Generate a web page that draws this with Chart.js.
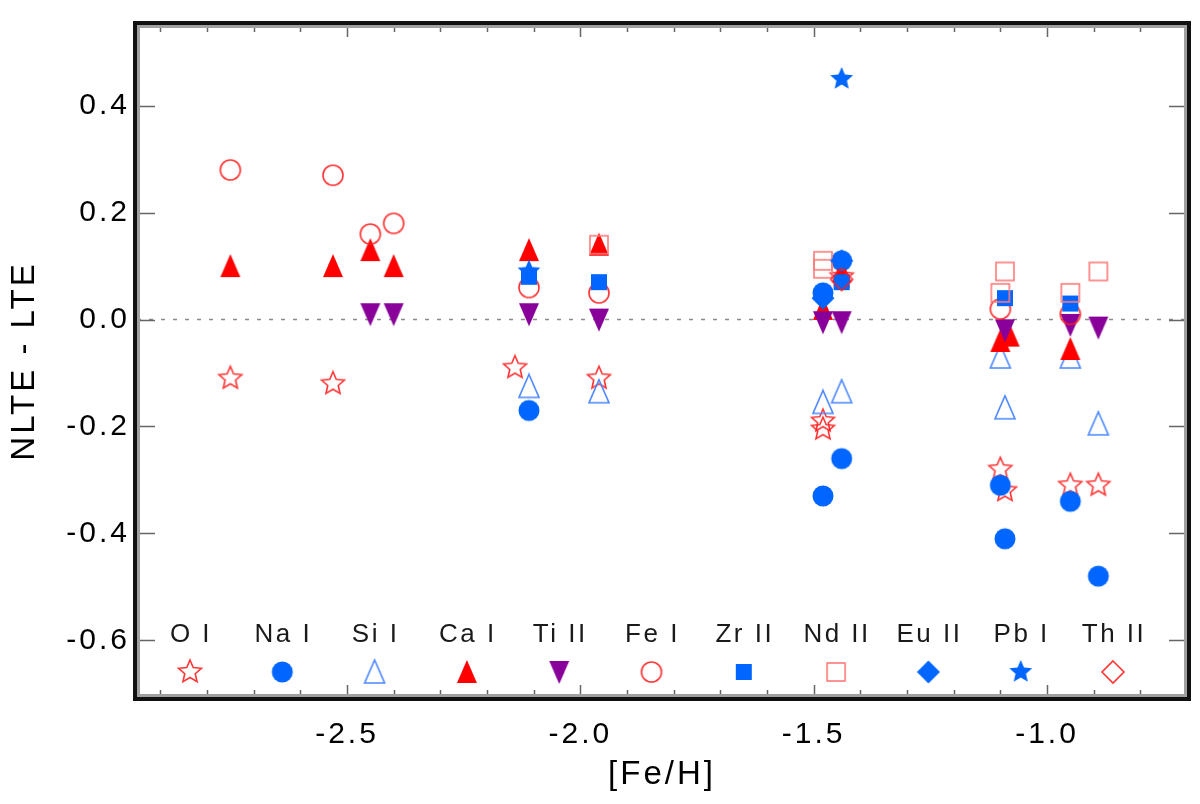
<!DOCTYPE html>
<html>
<head>
<meta charset="utf-8">
<script src="https://cdn.jsdelivr.net/npm/chart.js@4.4.1/dist/chart.umd.min.js"></script>
<style>
html,body{margin:0;padding:0;background:#fff;}
#wrap{width:1200px;height:804px;}
</style>
</head>
<body>
<div id="wrap"><canvas id="c" width="1200" height="804"></canvas></div>
<script>
// ---------------- DATA ----------------
const species = ['O I','Na I','Si I','Ca I','Ti II','Fe I','Zr II','Nd II','Eu II','Pb I','Th II'];

const feH_OI  = [-2.75, -2.53, -2.14, -1.96, -1.48, -1.48, -1.44, -1.10, -1.09, -0.95, -0.89];
const dlt_OI  = [-0.11, -0.12, -0.09, -0.11, -0.19, -0.205, 0.08, -0.28, -0.32, -0.31, -0.31];

const feH_NaI = [-2.11, -1.48, -1.48, -1.44, -1.44, -1.10, -1.09, -0.95, -0.89];
const dlt_NaI = [-0.17, 0.05, -0.33, 0.11, -0.26, -0.31, -0.41, -0.34, -0.48];

const feH_SiI = [-2.11, -1.96, -1.48, -1.44, -1.10, -1.09, -0.95, -0.89];
const dlt_SiI = [-0.125, -0.135, -0.155, -0.135, -0.07, -0.165, -0.07, -0.195];

const feH_CaI = [-2.75, -2.53, -2.45, -2.40, -2.11, -1.96, -1.48, -1.44, -1.10, -1.08, -0.95];
const dlt_CaI = [0.10, 0.10, 0.13, 0.10, 0.13, 0.14, 0.02, 0.09, -0.04, -0.03, -0.055];

const feH_TiII = [-2.45, -2.40, -2.11, -1.96, -1.48, -1.44, -1.09, -0.95, -0.89];
const dlt_TiII = [0.01, 0.01, 0.01, 0.00, -0.005, -0.005, -0.02, -0.01, -0.015];

const feH_FeI = [-2.75, -2.53, -2.45, -2.40, -2.11, -1.96, -1.10, -0.95];
const dlt_FeI = [0.28, 0.27, 0.16, 0.18, 0.06, 0.05, 0.02, 0.01];

const feH_ZrII = [-2.11, -1.96, -1.44, -1.09, -0.95];
const dlt_ZrII = [0.08, 0.07, 0.07, 0.04, 0.03];

const feH_NdII = [-1.96, -1.48, -1.48, -1.09, -1.10, -0.95, -0.89];
const dlt_NdII = [0.14, 0.11, 0.095, 0.09, 0.05, 0.05, 0.09];

const feH_EuII = [-1.48, -1.44];
const dlt_EuII = [0.04, 0.11];

const feH_PbI = [-2.11, -1.44];
const dlt_PbI = [0.09, 0.45];

const feH_ThII = [-1.44];
const dlt_ThII = [0.075];

const xTickValues = [-2.5, -2.0, -1.5, -1.0];
const yTickValues = [-0.6, -0.4, -0.2, 0.0, 0.2, 0.4];
const xMinorTicks = [-2.9,-2.8,-2.7,-2.6,-2.5,-2.4,-2.3,-2.2,-2.1,-2.0,-1.9,-1.8,-1.7,-1.6,-1.5,-1.4,-1.3,-1.2,-1.1,-1.0,-0.9,-0.8,-0.7];

const X_MIN = -2.95, X_MAX = -0.70;
const Y_MIN = -0.706, Y_MAX = 0.551;

// ---------------- MARKERS ----------------
const RED = '#ff0000', BLUE = '#0066ff', PURPLE = '#880099';
function mk(size, draw){
  const c = document.createElement('canvas');
  c.width = size; c.height = size;
  const g = c.getContext('2d');
  g.translate(size/2, size/2);
  draw(g);
  return c;
}
function starPath(g, R, r){
  g.beginPath();
  for (let i = 0; i < 10; i++){
    const a = -Math.PI/2 + i*Math.PI/5;
    const rad = (i % 2) ? r : R;
    g.lineTo(rad*Math.cos(a), rad*Math.sin(a));
  }
  g.closePath();
}
function triPath(g, up){
  g.beginPath();
  if (up){ g.moveTo(0,-12); g.lineTo(10,11); g.lineTo(-10,11); }
  else { g.moveTo(0,12); g.lineTo(10,-11); g.lineTo(-10,-11); }
  g.closePath();
}
function diaPath(g, r){
  g.beginPath(); g.moveTo(0,-r); g.lineTo(r,0); g.lineTo(0,r); g.lineTo(-r,0); g.closePath();
}
const markers = {
  'O I':  mk(30, g => { starPath(g, 12, 5.5); g.strokeStyle = 'rgba(255,30,30,0.9)'; g.lineWidth = 1.6; g.stroke(); }),
  'Na I': mk(26, g => { g.beginPath(); g.arc(0,0,10.5,0,2*Math.PI); g.fillStyle = BLUE; g.fill(); }),
  'Si I': mk(28, g => { triPath(g, true); g.strokeStyle = '#4a86ff'; g.lineWidth = 1.6; g.stroke(); }),
  'Ca I': mk(28, g => { triPath(g, true); g.fillStyle = RED; g.fill(); }),
  'Ti II':mk(28, g => { triPath(g, false); g.fillStyle = PURPLE; g.fill(); }),
  'Fe I': mk(26, g => { g.beginPath(); g.arc(0,0,10,0,2*Math.PI); g.strokeStyle = 'rgba(255,30,30,0.9)'; g.lineWidth = 1.6; g.stroke(); }),
  'Zr II':mk(22, g => { g.fillStyle = BLUE; g.fillRect(-8,-8,16,16); }),
  'Nd II':mk(24, g => { g.strokeStyle = '#ff7a7a'; g.lineWidth = 1.6; g.strokeRect(-9,-9,18,18); }),
  'Eu II':mk(28, g => { diaPath(g, 11.5); g.fillStyle = BLUE; g.fill(); }),
  'Pb I': mk(30, g => { starPath(g, 12, 5.5); g.fillStyle = BLUE; g.fill(); }),
  'Th II':mk(28, g => { diaPath(g, 11); g.strokeStyle = 'rgba(255,30,30,0.9)'; g.lineWidth = 1.6; g.stroke(); })
};

const seriesX = [feH_OI, feH_NaI, feH_SiI, feH_CaI, feH_TiII, feH_FeI, feH_ZrII, feH_NdII, feH_EuII, feH_PbI, feH_ThII];
const seriesY = [dlt_OI, dlt_NaI, dlt_SiI, dlt_CaI, dlt_TiII, dlt_FeI, dlt_ZrII, dlt_NdII, dlt_EuII, dlt_PbI, dlt_ThII];

const datasets = species.map((name, k) => ({
  label: name,
  data: seriesX[k].map((x, i) => ({x: x, y: seriesY[k][i]})),
  pointStyle: markers[name],
  pointRadius: 11,
  pointHoverRadius: 11,
  showLine: false,
  order: -k
}));

// ---------------- PLUGINS ----------------
const spacingPlugin = {
  id: 'spacing',
  beforeUpdate(chart){ chart.ctx.letterSpacing = '3px'; },
  beforeDraw(chart){ chart.ctx.letterSpacing = '3px'; }
};

const decorPlugin = {
  id: 'decor',
  beforeDatasetsDraw(chart){
    const {ctx, chartArea: a, scales: {y}} = chart;
    const y0 = y.getPixelForValue(0);
    ctx.save();
    ctx.strokeStyle = '#8c8c8c';
    ctx.lineWidth = 1.5;
    ctx.setLineDash([4, 8]);
    ctx.beginPath(); ctx.moveTo(a.left, y0); ctx.lineTo(a.right, y0); ctx.stroke();
    ctx.restore();
  },
  afterDatasetsDraw(chart){
    const {ctx, chartArea: a, scales: {x, y}} = chart;
    ctx.save();
    // ticks
    ctx.strokeStyle = '#666';
    ctx.lineWidth = 1.5;
    ctx.beginPath();
    xMinorTicks.forEach(v => {
      const px = Math.round(x.getPixelForValue(v)) + 0.5;
      const major = Math.abs(v*2 - Math.round(v*2)) < 1e-6;
      const len = major ? 12 : 7;
      ctx.moveTo(px, a.bottom); ctx.lineTo(px, a.bottom - len);
      ctx.moveTo(px, a.top); ctx.lineTo(px, a.top + len);
    });
    yTickValues.forEach(v => {
      const py = Math.round(y.getPixelForValue(v)) + 0.5;
      ctx.moveTo(a.left, py); ctx.lineTo(a.left + 18, py);
      ctx.moveTo(a.right, py); ctx.lineTo(a.right - 18, py);
    });
    ctx.stroke();
    // frame
    ctx.strokeStyle = '#a0a0a0';
    ctx.lineWidth = 3;
    ctx.strokeRect(a.left + 1.5, a.top + 1.5, a.right - a.left - 3, a.bottom - a.top - 3);
    ctx.strokeStyle = '#111';
    ctx.lineWidth = 4;
    ctx.strokeRect(a.left - 2, a.top - 2, a.right - a.left + 4, a.bottom - a.top + 4);

    // legend inside plot
    ctx.font = "26px 'Liberation Sans', Arial, sans-serif";
    ctx.fillStyle = '#1a1a1a';
    ctx.textAlign = 'center';
    ctx.textBaseline = 'middle';
    ctx.letterSpacing = '2.5px';
    species.forEach((name, i) => {
      const cx = a.left + 53 + i * 92.3;
      ctx.fillText(name, cx + 1, a.bottom - 62);
      const m = markers[name];
      ctx.drawImage(m, cx - m.width/2, a.bottom - 25 - m.height/2);
    });
    ctx.restore();
  }
};

// ---------------- CHART ----------------
const FONT = "'Liberation Sans', Arial, Helvetica, sans-serif";
Chart.defaults.font.family = FONT;
Chart.defaults.color = '#000';

new Chart(document.getElementById('c'), {
  type: 'scatter',
  data: { datasets },
  options: {
    responsive: false,
    animation: false,
    layout: { padding: { top: 15, right: 13, left: 0, bottom: 0 } },
    plugins: { legend: { display: false }, tooltip: { enabled: false } },
    scales: {
      x: {
        type: 'linear', min: X_MIN, max: X_MAX,
        grid: { display: false, drawTicks: false },
        border: { display: false },
        afterBuildTicks: s => { s.ticks = xTickValues.map(v => ({value: v})); },
        afterFit: s => { s.height = 107; },
        ticks: { font: { size: 30 }, color: '#000', padding: 20, maxRotation: 0, autoSkip: false,
                 callback: v => Number(v).toFixed(1) },
        title: { display: true, text: '[Fe/H]', color: '#000', font: { size: 33 }, padding: { top: 0, bottom: 9 } }
      },
      y: {
        type: 'linear', min: Y_MIN, max: Y_MAX,
        grid: { display: false, drawTicks: false },
        border: { display: false },
        afterBuildTicks: s => { s.ticks = yTickValues.map(v => ({value: v})); },
        afterFit: s => { s.width = 137; },
        ticks: { font: { size: 30 }, color: '#000', padding: 7, autoSkip: false,
                 callback: v => Number(v).toFixed(1) },
        title: { display: true, text: 'NLTE - LTE', color: '#000', font: { size: 33 }, padding: { top: 5, bottom: 0 } }
      }
    }
  },
  plugins: [spacingPlugin, decorPlugin]
});
</script>
</body>
</html>
